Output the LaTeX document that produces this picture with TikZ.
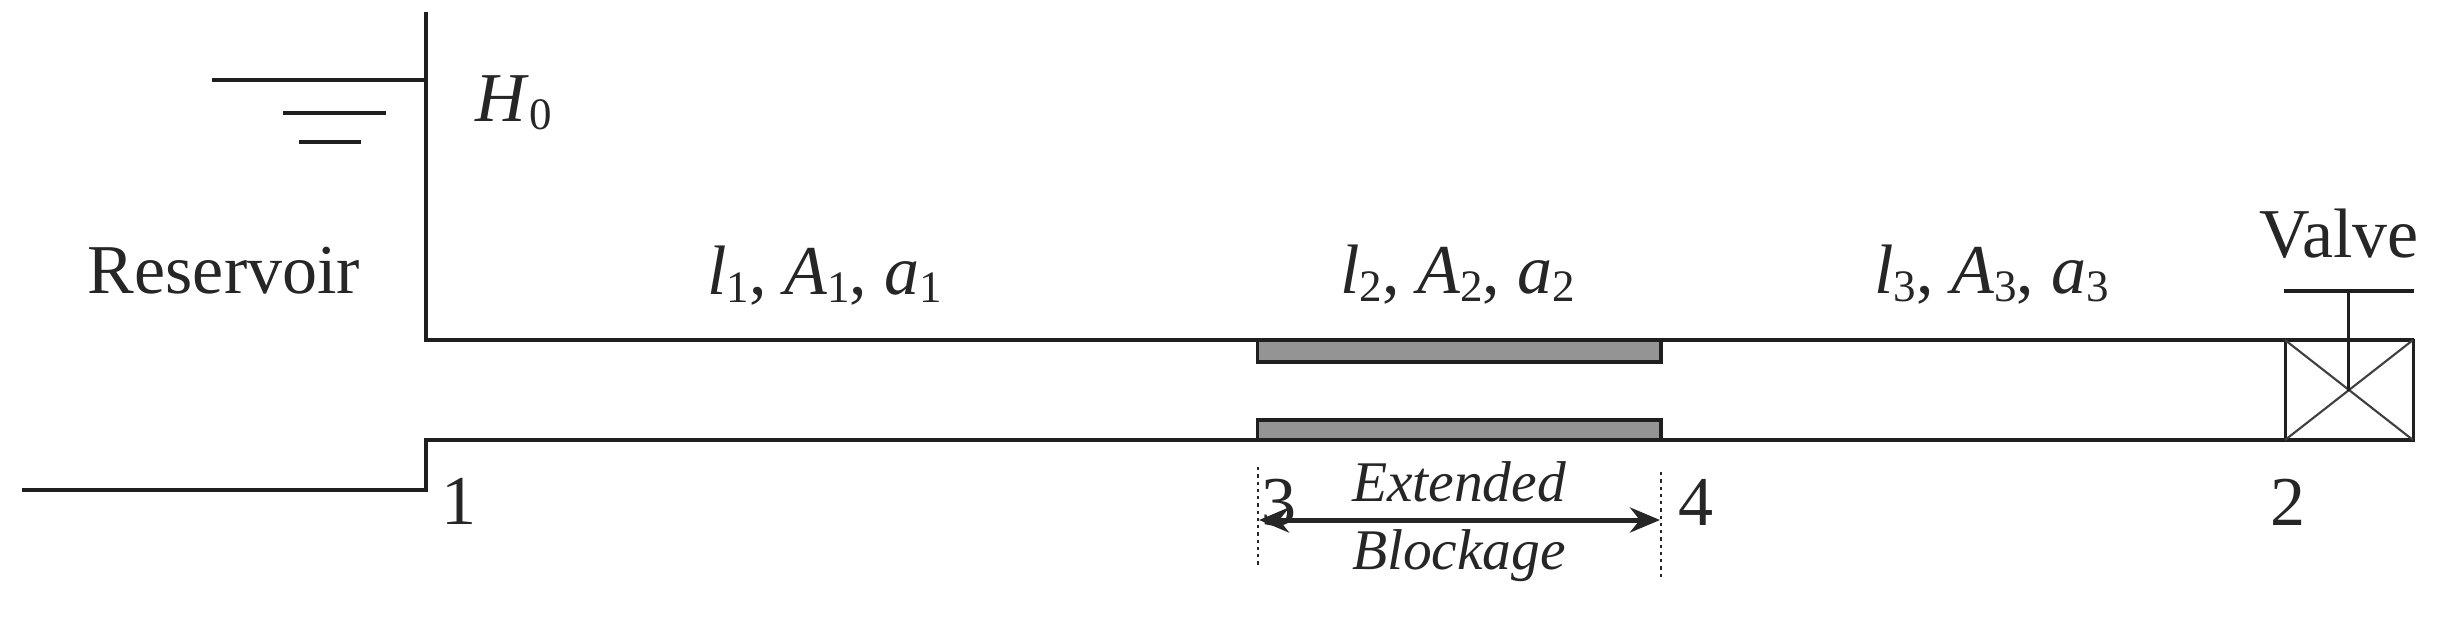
\documentclass[tikz,border=0pt]{standalone}
\usepackage{fontspec}
\setmainfont{Liberation Serif}
\usetikzlibrary{arrows.meta}
\newcommand{\low}[1]{\raisebox{-3.4pt}{\fontsize{18}{18}\selectfont\upshape #1}}
\newcommand{\triple}[1]{\textit{l}\low{#1}, \textit{A}\low{#1}, \textit{a}\low{#1}}
\tikzset{
  x=0.4pt,y=-0.4pt,
  pipe/.style={draw=black!88,line width=1.6pt,line cap=butt,line join=miter},
  valveline/.style={draw=black!88,line width=1.2pt},
  thinline/.style={draw=black!75,line width=0.85pt},
  blockbar/.style={fill=black!42,draw=black!88,line width=1.5pt},
  guide/.style={draw=black!85,line width=0.8pt,dash pattern=on 1.3pt off 1.6pt},
  dimline/.style={draw=black!85,line width=2pt,{Stealth[length=12pt,width=10pt]}-{Stealth[length=12pt,width=10pt]}},
  txt/.style={inner sep=0pt,anchor=base,font=\fontsize{28}{30}\selectfont,text=black!85},
  captxt/.style={inner sep=0pt,anchor=base,font=\fontsize{23}{25}\selectfont\itshape,text=black!85}
}
\begin{document}
\begin{tikzpicture}
\useasboundingbox (0,0) rectangle (2460,621);
% key points
\coordinate (wallTop) at (426,12);
\coordinate (wallFoot) at (426,340);
\coordinate (surfL) at (212,80);
\coordinate (surfR) at (426,80);
\coordinate (topEnd) at (2414,340);
\coordinate (floorL) at (22,490);
\coordinate (stepB) at (426,490);
\coordinate (stepT) at (426,440);
\coordinate (botEnd) at (2414,440);
\coordinate (w1L) at (283,113);
\coordinate (w1R) at (386,113);
\coordinate (w2L) at (299,142);
\coordinate (w2R) at (361,142);
\coordinate (blkA) at (1257.5,340);
\coordinate (blkB) at (1661,362);
\coordinate (blkC) at (1257.5,420);
\coordinate (blkD) at (1661,440);
\coordinate (vNW) at (2285,340);
\coordinate (vNE) at (2413,340);
\coordinate (vSW) at (2285,440);
\coordinate (vSE) at (2413,440);
\coordinate (hL) at (2284,291);
\coordinate (hR) at (2414,291);
\coordinate (hM) at (2348,291);
\coordinate (vC) at (2348,391);
\coordinate (g3T) at (1257.5,467);
\coordinate (g3B) at (1257.5,567);
\coordinate (g4T) at (1661,472);
\coordinate (g4B) at (1661,578);
\coordinate (dimL) at (1259,520);
\coordinate (dimR) at (1660,520);
% blockages
\path[blockbar] (blkA) rectangle (blkB);
\path[blockbar] (blkC) rectangle (blkD);
% pipe and reservoir
\path[pipe] (wallTop) -- (wallFoot) -- (topEnd);
\path[pipe] (floorL) -- (stepB) -- (stepT) -- (botEnd);
\path[pipe] (surfL) -- (surfR);
\path[pipe] (w1L) -- (w1R);
\path[pipe] (w2L) -- (w2R);
% valve
\path[valveline] (vNW) rectangle (vSE);
\path[thinline] (vNW) -- (vSE);
\path[thinline] (vNE) -- (vSW);
\path[pipe] (hL) -- (hR);
\path[valveline] (hM) -- (vC);
% extended blockage
\path[guide] (g3T) -- (g3B);
\path[guide] (g4T) -- (g4B);
\path[dimline] (dimL) -- (dimR);
% labels
\node[txt] (res) at (224,293) {Reservoir};
\node[txt,anchor=base west] (h0) at (475,121) {\textit{H}\low{0}};
\node[txt] (t1) at (825,294) {\triple{1}};
\node[txt] (t2) at (1458,293) {\triple{2}};
\node[txt] (t3) at (1992,293) {\triple{3}};
\node[txt] (valve) at (2339,257) {Valve};
\node[txt] (n1) at (459,524) {1};
\node[txt] (n3) at (1279,525) {3};
\node[txt] (n4) at (1696,525) {4};
\node[txt] (n2) at (2288,525) {2};
\node[captxt] (ext) at (1459,501) {Extended};
\node[captxt] (blk) at (1459,569) {Blockage};
\end{tikzpicture}
\end{document}
